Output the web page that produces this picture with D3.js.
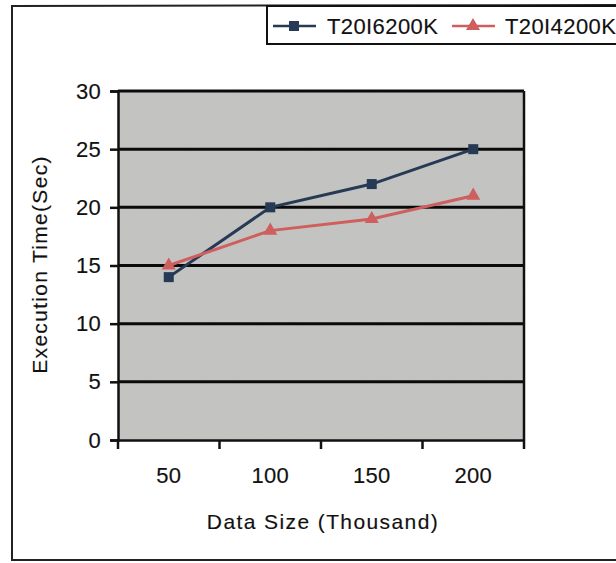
<!DOCTYPE html>
<html>
<head>
<meta charset="utf-8">
<script src="https://cdn.jsdelivr.net/npm/d3@7"></script>
<style>
  html, body { margin: 0; padding: 0; background: #fff; }
  svg { display: block; }
  text { font-family: "Liberation Sans", Arial, sans-serif; fill: #111; stroke: #111; stroke-width: 0.15px; }
</style>
</head>
<body>
<svg id="chart" width="616" height="563"></svg>
<script>
// Execution time per data size for two data sets
const categories = ["50", "100", "150", "200"];
const seriesNames = ["T20I6200K", "T20I4200K"];
const seriesA = [14, 20, 22, 25];
const seriesB = [15, 18, 19, 21];
const yTicks = [0, 5, 10, 15, 20, 25, 30];

const svg = d3.select("#chart");
const W = 616, H = 563;
const plot = { left: 118, right: 524, top: 91, bottom: 440 };

const defs = svg.append("defs");
const grain = defs.append("filter").attr("id", "grain")
  .attr("x", 0).attr("y", 0).attr("width", "100%").attr("height", "100%");
grain.append("feTurbulence").attr("type", "fractalNoise")
  .attr("baseFrequency", 0.9).attr("numOctaves", 2).attr("seed", 3).attr("result", "noise");
grain.append("feColorMatrix").attr("in", "noise").attr("type", "matrix")
  .attr("values", "0 0 0 0 0.55  0 0 0 0 0.55  0 0 0 0 0.55  0.9 0 0 0 -0.25").attr("result", "speck");
grain.append("feComposite").attr("in", "speck").attr("in2", "SourceGraphic").attr("operator", "in").attr("result", "sp");
grain.append("feMerge").selectAll("feMergeNode").data(["SourceGraphic", "sp"]).enter()
  .append("feMergeNode").attr("in", d => d);

// Outer chart frame
svg.append("path")
  .attr("d", `M${W + 5},560 L12,560 L12,6 L${W + 5},5`)
  .attr("fill", "none").attr("stroke", "#222").attr("stroke-width", 2);

const x = d3.scaleBand().domain(categories).range([plot.left, plot.right]);
const y = d3.scaleLinear().domain([0, 30]).range([plot.bottom, plot.top]);

// Plot area background
svg.append("rect")
  .attr("x", plot.left).attr("y", plot.top)
  .attr("width", plot.right - plot.left).attr("height", plot.bottom - plot.top)
  .attr("fill", "#c3c3c1").attr("filter", "url(#grain)");

// Horizontal grid lines
svg.append("g").selectAll("line").data(yTicks.filter(d => d > 0)).enter().append("line")
  .attr("x1", plot.left).attr("x2", plot.right)
  .attr("y1", d => y(d)).attr("y2", d => y(d))
  .attr("stroke", "#0a0a0a").attr("stroke-width", 3);

// Right border of plot area
svg.append("line")
  .attr("x1", plot.right).attr("x2", plot.right)
  .attr("y1", plot.top).attr("y2", plot.bottom)
  .attr("stroke", "#111").attr("stroke-width", 2.5);

// Y axis
const yAxis = svg.append("g").attr("transform", `translate(${plot.left},0)`)
  .call(d3.axisLeft(y).tickValues(yTicks).tickSize(8).tickPadding(9));
yAxis.select(".domain").attr("stroke", "#111").attr("stroke-width", 2.5);
yAxis.selectAll(".tick line").attr("stroke", "#111").attr("stroke-width", 2.5);
yAxis.selectAll(".tick text").attr("font-size", 22).attr("fill", "#111")
  .style("letter-spacing", "0.3px");

// X axis with ticks on category boundaries
const xAxis = svg.append("g").attr("transform", `translate(0,${plot.bottom})`)
  .call(d3.axisBottom(x).tickSize(0).tickPadding(27));
xAxis.select(".domain").attr("stroke", "#111").attr("stroke-width", 2.5);
xAxis.selectAll(".tick text").attr("font-size", 22).attr("fill", "#111")
  .style("letter-spacing", "0.3px");
const bounds = categories.map(c => x(c)).concat([x(categories[categories.length - 1]) + x.bandwidth()]);
xAxis.selectAll("line.bound").data(bounds).enter().append("line").attr("class", "bound")
  .attr("x1", d => d).attr("x2", d => d).attr("y1", 0).attr("y2", 9)
  .attr("stroke", "#111").attr("stroke-width", 2.5);

// Axis titles
svg.append("text")
  .attr("transform", `translate(47,${(plot.top + plot.bottom) / 2 - 1}) rotate(-90)`)
  .attr("text-anchor", "middle").attr("font-size", 21)
  .style("letter-spacing", "1.3px")
  .text("Execution Time(Sec)");
svg.append("text")
  .attr("x", (plot.left + plot.right) / 2 + 2).attr("y", 529)
  .attr("text-anchor", "middle").attr("font-size", 21)
  .style("letter-spacing", "1.4px")
  .text("Data Size (Thousand)");

const cx = c => x(c) + x.bandwidth() / 2;
const line = d3.line().x((d, i) => cx(categories[i])).y(d => y(d));
const series = [
  { name: seriesNames[0], values: seriesA, color: "#263a55", marker: "square" },
  { name: seriesNames[1], values: seriesB, color: "#cf5e5e", marker: "triangle" }
];

function drawMarker(g, type, px, py, color) {
  if (type === "square") {
    g.append("rect").attr("x", px - 5).attr("y", py - 5).attr("width", 10).attr("height", 10)
      .attr("fill", color);
  } else {
    g.append("path").attr("d", d3.symbol().type(d3.symbolTriangle).size(85)())
      .attr("transform", `translate(${px},${py})`).attr("fill", color);
  }
}

series.forEach(s => {
  const g = svg.append("g");
  g.append("path").datum(s.values).attr("d", line)
    .attr("fill", "none").attr("stroke", s.color).attr("stroke-width", 3);
  s.values.forEach((v, i) => drawMarker(g, s.marker, cx(categories[i]), y(v), s.color));
});

// Legend
const lg = svg.append("g");
lg.append("path")
  .attr("d", `M${W + 5},6 L267,6 L267,44 L${W + 5},44`)
  .attr("fill", "#fff").attr("stroke", "#111").attr("stroke-width", 2);
const legendItems = [
  { s: series[0], x0: 273, tx: 327 },
  { s: series[1], x0: 452, tx: 505 }
];
legendItems.forEach(it => {
  lg.append("line").attr("x1", it.x0).attr("x2", it.x0 + 43).attr("y1", 26).attr("y2", 26)
    .attr("stroke", it.s.color).attr("stroke-width", 2.5);
  drawMarker(lg, it.s.marker, it.x0 + 21, 26, it.s.color);
  lg.append("text").attr("x", it.tx).attr("y", 34).attr("font-size", 22)
    .style("letter-spacing", "0.4px").text(it.s.name);
});
</script>
</body>
</html>
